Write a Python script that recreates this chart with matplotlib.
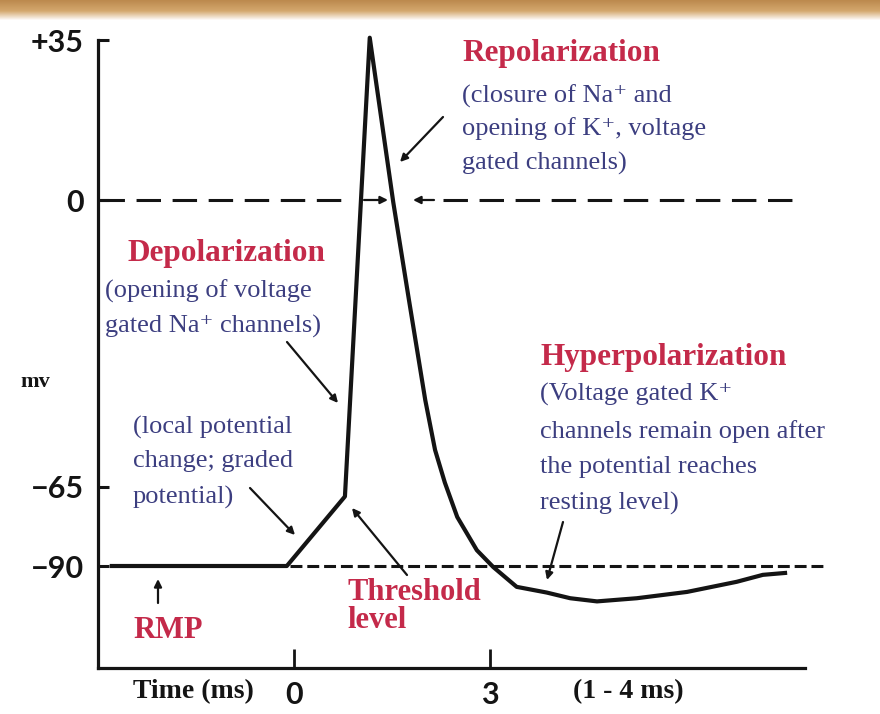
import numpy as np
import matplotlib.pyplot as plt

plt.rcParams['font.family'] = ['Liberation Serif', 'DejaVu Serif']

# action potential trace (time in ms, membrane potential in mV)
time_ms = [-2.79, -0.11, 0.78, 1.16, 1.52, 1.76, 2.01, 2.16, 2.31, 2.50, 2.80, 3.05,
           3.41, 3.87, 4.23, 4.64, 5.25, 6.02, 6.78, 7.18, 7.52]
potential_mv = [-90, -90, -68, 35.5, -0.5, -22.6, -45.3, -56.6, -64, -74.5, -85, -90.3,
                -96.6, -98.4, -100.2, -101.2, -100.2, -98.2, -95, -92.8, -92.2]

y_ticks = [35, 0, -65, -90]
y_tick_labels = ['+35', '0', '\u221265', '\u221290']
x_ticks = [0, 3]
x_tick_labels = ['0', '3']
rmp_mv = -90
zero_mv = 0

RED = '#c42a4a'
BLUE = '#3c3e80'
INK = '#141414'

# the sketch's mV axis is not linear: piecewise scale through the labelled levels
mv_nodes = np.array([-160, -90, -65, 0, 35, 60])
px_nodes = np.array([787.2, 566, 487, 200, 40, -74.25])


def fwd(v):
    return -np.interp(v, mv_nodes, px_nodes)


def inv(p):
    return np.interp(p, -px_nodes, mv_nodes)


W, H = 880, 714
px_per_ms = 65.3
t0_px = 294


def t_at(x):
    return (x - t0_px) / px_per_ms


def mv_at(y):
    return float(inv(-y))


fig = plt.figure(figsize=(W / 100, H / 100), dpi=100)
ax = fig.add_axes([0, 0, 1, 1])
ax.set_yscale('function', functions=(fwd, inv))
ax.set_xlim(t_at(0), t_at(W))
ax.set_ylim(mv_at(H), mv_at(0))

# axes lines
ax.spines['top'].set_visible(False)
ax.spines['right'].set_visible(False)
ax.spines['left'].set_position(('data', t_at(98)))
ax.spines['left'].set_bounds(mv_at(668), 35)
ax.spines['bottom'].set_position(('data', mv_at(668)))
ax.spines['bottom'].set_bounds(t_at(98), t_at(805))
for s in ('left', 'bottom'):
    ax.spines[s].set_linewidth(2.3)
    ax.spines[s].set_color(INK)

ax.set_yticks(y_ticks, y_tick_labels)
ax.tick_params(axis='y', direction='in', length=8, width=2.2, pad=10,
               labelsize=22, labelfontfamily='Lato', colors=INK)
ax.set_xticks(x_ticks, x_tick_labels)
ax.tick_params(axis='x', direction='in', length=14, width=2, pad=9,
               labelsize=22, labelfontfamily='Lato', colors=INK)
for lbl in ax.get_yticklabels() + ax.get_xticklabels():
    lbl.set_fontweight('bold')

# reference levels
ax.plot([t_at(100), t_at(352)], [zero_mv, zero_mv], color=INK, lw=2.2, dashes=(8, 3.8))
ax.plot([t_at(443), t_at(792)], [zero_mv, zero_mv], color=INK, lw=2.2, dashes=(8, 3.8))
ax.plot([t_at(290), t_at(823)], [rmp_mv, rmp_mv], color=INK, lw=2.2, dashes=(3.9, 1.6))

# the trace
ax.plot(time_ms, potential_mv, color=INK, lw=3, solid_joinstyle='round')

arrow = dict(arrowstyle='-|>', color=INK, lw=1.6, mutation_scale=11, shrinkA=0, shrinkB=0)


def pointer(tail, tip):
    ax.annotate('', xy=(t_at(tip[0]), mv_at(tip[1])),
                xytext=(t_at(tail[0]), mv_at(tail[1])), arrowprops=arrow)


pointer((364, 200), (388, 200))
pointer((434, 200), (413, 200))
pointer((443, 117), (400, 162))
pointer((287, 342), (338, 403))
pointer((250, 488), (295, 535))
pointer((407, 575), (352, 508))
pointer((158, 603), (158, 579))
pointer((563, 522), (547, 580))


def label(x, y, s, color=BLUE, size=19, weight='normal', ha='left'):
    ax.text(x / W, 1 - y / H, s, transform=ax.transAxes, color=color, fontsize=size,
            fontweight=weight, ha=ha, va='center')


label(462, 54, 'Repolarization', RED, 22.5, 'bold')
label(462, 96, '(closure of Na\u207a and')
label(462, 129, 'opening of K\u207a, voltage')
label(462, 163, 'gated channels)')

label(127, 253, 'Depolarization', RED, 22.5, 'bold')
label(105, 291, '(opening of voltage')
label(105, 326, 'gated Na\u207a channels)')

label(540, 358, 'Hyperpolarization', RED, 22.5, 'bold')
label(540, 394, '(Voltage gated K\u207a')
label(540, 432, 'channels remain open after')
label(540, 467, 'the potential reaches')
label(540, 503, 'resting level)')

label(133, 427, '(local potential')
label(133, 461, 'change; graded')
label(133, 497, 'potential)')

label(133, 630, 'RMP', RED, 22, 'bold')
label(347, 593, 'Threshold', RED, 22, 'bold')
label(347, 620, 'level', RED, 22, 'bold')

label(20, 382, 'mv', INK, 16, 'bold')
label(133, 692, 'Time (ms)', INK, 20, 'bold')
label(573, 692, '(1 - 4 ms)', INK, 20, 'bold')

# tan banner strip along the top edge
band = fig.add_axes([0, 1 - 20 / H, 1, 20 / H])
stops = [0, 0.55, 1.0]
cols = np.array([[188, 138, 78], [212, 168, 110], [252, 247, 243]]) / 255
rows = np.linspace(0, 1, 20)
grad = np.stack([np.interp(rows, stops, cols[:, k]) for k in range(3)], axis=1)
band.imshow(grad[:, None, :], aspect='auto', extent=(0, 1, 0, 1))
band.axis('off')

fig.savefig('out.png', dpi=100)
